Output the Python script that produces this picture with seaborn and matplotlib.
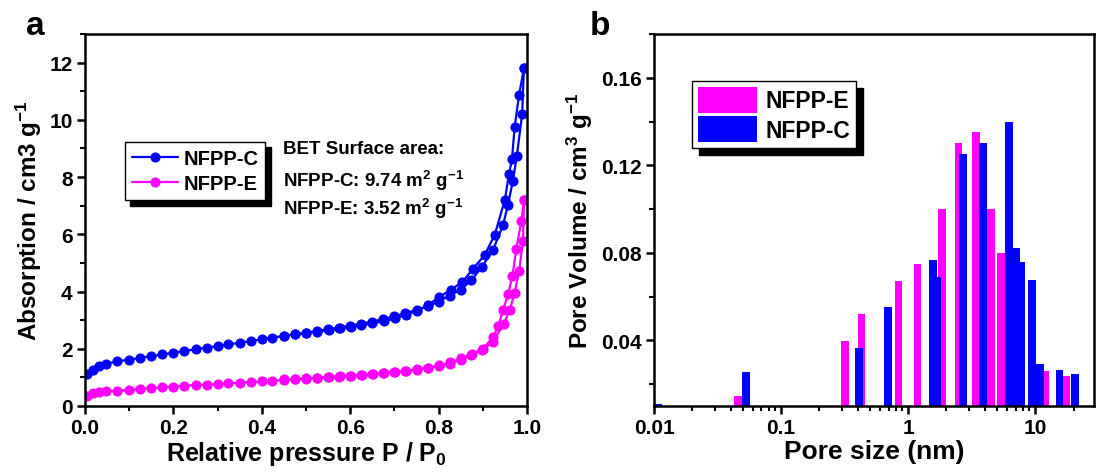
import numpy as np
import pandas as pd
import seaborn as sns
import matplotlib
matplotlib.use("Agg")
import matplotlib.pyplot as plt
from matplotlib.ticker import FuncFormatter, MultipleLocator, LogLocator, NullFormatter

# ---------------- data: panel a (isotherms) ----------------
c_ads_p = [0.005, 0.019, 0.032, 0.047, 0.073, 0.10, 0.124, 0.149, 0.175, 0.20, 0.225, 0.25, 0.275,
           0.30, 0.324, 0.35, 0.375, 0.40, 0.424, 0.45, 0.475, 0.50, 0.525, 0.55, 0.575, 0.60, 0.624,
           0.65, 0.674, 0.70, 0.725, 0.75, 0.775, 0.80, 0.825, 0.85, 0.874, 0.898, 0.923, 0.946,
           0.957, 0.968, 0.977, 0.989, 0.993]
c_ads_v = [1.12, 1.27, 1.39, 1.47, 1.56, 1.62, 1.68, 1.74, 1.80, 1.86, 1.92, 1.98, 2.04,
           2.09, 2.15, 2.21, 2.27, 2.33, 2.39, 2.45, 2.51, 2.56, 2.62, 2.68, 2.74, 2.80, 2.88,
           2.94, 3.04, 3.13, 3.25, 3.35, 3.48, 3.65, 3.86, 4.07, 4.39, 4.86, 5.45, 6.33,
           7.04, 7.86, 8.74, 10.19, 11.80]
c_des_p = [0.993, 0.982, 0.972, 0.966, 0.959, 0.950, 0.927, 0.904, 0.878, 0.854, 0.827, 0.801,
           0.776, 0.751, 0.726, 0.701, 0.676, 0.650, 0.625, 0.601, 0.576, 0.551, 0.526, 0.501,
           0.476, 0.451]
c_des_v = [11.80, 10.86, 9.74, 8.62, 8.09, 7.21, 5.98, 5.27, 4.80, 4.33, 4.06, 3.80,
           3.53, 3.33, 3.18, 3.06, 2.96, 2.89, 2.82, 2.76, 2.71, 2.66, 2.60, 2.55,
           2.50, 2.45]

e_ads_p = c_ads_p[:39] + [0.947, 0.961, 0.972, 0.982, 0.991, 0.993]
e_ads_v = [0.35, 0.45, 0.48, 0.51, 0.53, 0.56, 0.60, 0.62, 0.65, 0.68, 0.71, 0.73, 0.75,
           0.76, 0.79, 0.81, 0.84, 0.86, 0.88, 0.91, 0.93, 0.95, 0.98, 1.00, 1.02, 1.05, 1.08,
           1.11, 1.14, 1.18, 1.21, 1.26, 1.32, 1.39, 1.48, 1.62, 1.78, 1.95, 2.25,
           2.85, 3.35, 3.95, 4.70, 5.75, 7.21]
e_des_p = [0.993, 0.987, 0.976, 0.967, 0.957, 0.946, 0.935, 0.923, 0.900, 0.876, 0.851, 0.826,
           0.801, 0.776, 0.751, 0.726, 0.701, 0.676, 0.651, 0.626, 0.601, 0.576, 0.551, 0.526,
           0.501, 0.476, 0.451]
e_des_v = [7.21, 6.45, 5.50, 4.55, 3.90, 3.35, 2.80, 2.40, 2.00, 1.82, 1.66, 1.52,
           1.42, 1.34, 1.28, 1.23, 1.19, 1.15, 1.12, 1.09, 1.06, 1.04, 1.01, 0.99,
           0.97, 0.95, 0.93]

# ---------------- data: panel b (pore size distribution) ----------------
e_size = [0.046, 0.32, 0.43, 0.84, 1.18, 1.85, 2.49, 3.43, 4.47, 5.4, 12.0, 17.5]
e_vol = [0.0145, 0.0397, 0.0519, 0.0672, 0.0747, 0.100, 0.130, 0.135, 0.100, 0.080, 0.0262, 0.0236]
c_size = [0.0107, 0.053, 0.41, 0.69, 1.56, 1.68, 2.71, 3.89, 6.21, 7.1, 7.7, 9.46, 10.9, 15.5, 20.5]
c_vol = [0.0107, 0.0255, 0.0366, 0.0553, 0.0767, 0.069, 0.125, 0.130, 0.140, 0.082, 0.076,
         0.0675, 0.0293, 0.0265, 0.0245]

BLUE = "#0000FF"
MAG = "#FF00FF"

sns.set_theme(style="ticks")
plt.rcParams["font.family"] = ["Liberation Sans", "DejaVu Sans"]
plt.rcParams["font.weight"] = "bold"
plt.rcParams["axes.labelweight"] = "bold"
plt.rcParams["mathtext.default"] = "regular"
plt.rcParams["axes.edgecolor"] = "black"
plt.rcParams["axes.linewidth"] = 1.8
plt.rcParams["xtick.color"] = "black"
plt.rcParams["ytick.color"] = "black"
plt.rcParams["text.color"] = "black"
plt.rcParams["axes.labelcolor"] = "black"

fig = plt.figure(figsize=(10.97, 4.77), dpi=100)
ax1 = fig.add_axes([0.0775, 0.1468, 0.4029, 0.7798])
ax2 = fig.add_axes([0.5962, 0.1468, 0.4011, 0.7798])

# ---------------- panel a ----------------
def branch(ax, p, v, color, label=None):
    df = pd.DataFrame({"P": p, "V": v})
    sns.lineplot(data=df, x="P", y="V", ax=ax, sort=False, estimator=None, color=color,
                 linewidth=1.6, marker="o", markersize=6.5, markeredgewidth=0.8,
                 markeredgecolor=color, label=label, legend=False)

branch(ax1, c_ads_p, c_ads_v, BLUE, "NFPP-C")
branch(ax1, c_des_p, c_des_v, BLUE)
branch(ax1, e_ads_p, e_ads_v, MAG, "NFPP-E")
branch(ax1, e_des_p, e_des_v, MAG)

ax1.set_xlim(0, 1.0)
ax1.set_ylim(0, 13)
ax1.xaxis.set_major_locator(MultipleLocator(0.2))
ax1.xaxis.set_minor_locator(MultipleLocator(0.1))
ax1.yaxis.set_major_locator(MultipleLocator(2))
ax1.yaxis.set_minor_locator(MultipleLocator(1))
ax1.xaxis.set_major_formatter(FuncFormatter(lambda v, p: f"{v:.1f}"))
ax1.set_xlabel("Relative pressure P / P$_0$", fontsize=18, fontweight="bold", labelpad=1)
ax1.set_ylabel("Absorption / cm3 g$^{-1}$", fontsize=17.5, fontweight="bold", labelpad=4)

h, l = ax1.get_legend_handles_labels()
leg1 = ax1.legend(handles=[h[0], h[2]] if len(h) > 2 else h, labels=["NFPP-C", "NFPP-E"],
                  loc="upper left", bbox_to_anchor=(0.09, 0.71), fontsize=14.5,
                  frameon=True, fancybox=False, shadow={"color": "black", "alpha": 1, "ox": 4, "oy": -4},
                  edgecolor="black", framealpha=1, handlelength=2.3, handletextpad=0.25,
                  borderpad=0.35, labelspacing=0.3, borderaxespad=0)
leg1.get_frame().set_linewidth(1.0)

ax1.text(0.448, 0.715, "BET Surface area:", transform=ax1.transAxes, fontsize=13.5,
         fontweight="bold", va="top", ha="left")
ax1.text(0.448, 0.640, "NFPP-C: 9.74 m$^{2}$ g$^{-1}$", transform=ax1.transAxes, fontsize=13.5,
         fontweight="bold", va="top", ha="left")
ax1.text(0.448, 0.565, "NFPP-E: 3.52 m$^{2}$ g$^{-1}$", transform=ax1.transAxes, fontsize=13.5,
         fontweight="bold", va="top", ha="left")

# ---------------- panel b ----------------
ax2.set_xscale("log")
half = 10 ** 0.03
e_left = [s / half for s in e_size]
e_w = [s * half - s / half for s in e_size]
c_left = [s / half for s in c_size]
c_w = [s * half - s / half for s in c_size]
ax2.bar(e_left, e_vol, width=e_w, align="edge", color=MAG, linewidth=0, label="NFPP-E")
ax2.bar(c_left, c_vol, width=c_w, align="edge", color=BLUE, linewidth=0, label="NFPP-C")
ax2.set_xlim(0.01, 29)
ax2.set_ylim(0.01, 0.18)
ax2.yaxis.set_major_locator(MultipleLocator(0.04))
ax2.yaxis.set_minor_locator(MultipleLocator(0.02))
ax2.yaxis.set_major_formatter(FuncFormatter(lambda v, p: f"{v:.2f}"))
ax2.xaxis.set_major_locator(LogLocator(base=10, numticks=10))
ax2.xaxis.set_minor_locator(LogLocator(base=10, subs=np.arange(2, 10), numticks=20))
ax2.xaxis.set_major_formatter(FuncFormatter(lambda v, p: f"{v:g}"))
ax2.xaxis.set_minor_formatter(NullFormatter())
ax2.set_xlabel("Pore size (nm)", fontsize=19, fontweight="bold", labelpad=1)
ax2.set_ylabel("Pore Volume / cm$^{3}$ g$^{-1}$", fontsize=17.5, fontweight="bold", labelpad=4)

leg2 = ax2.legend(loc="upper left", bbox_to_anchor=(0.086, 0.873), fontsize=16.5,
                  frameon=True, fancybox=False, shadow={"color": "black", "alpha": 1, "ox": 5, "oy": -5},
                  edgecolor="black", framealpha=1, handlelength=2.6, handleheight=1.35,
                  handletextpad=0.35, borderpad=0.25, labelspacing=0.15, borderaxespad=0)
leg2.get_frame().set_linewidth(1.0)

for ax in (ax1, ax2):
    ax.tick_params(axis="both", which="major", direction="out", length=6, width=1.8,
                   labelsize=15, pad=3, top=False, right=False)
    ax.tick_params(axis="both", which="minor", direction="out", length=3.5, width=1.5,
                   top=False, right=False)
    for t in ax.get_xticklabels() + ax.get_yticklabels():
        t.set_fontweight("bold")
    for s in ax.spines.values():
        s.set_visible(True)
        s.set_linewidth(1.8)
        s.set_color("black")

fig.text(0.032, 0.945, "a", fontsize=24, fontweight="bold", ha="center", va="center")
fig.text(0.547, 0.945, "b", fontsize=24, fontweight="bold", ha="center", va="center")

fig.savefig("out.png", dpi=100)
